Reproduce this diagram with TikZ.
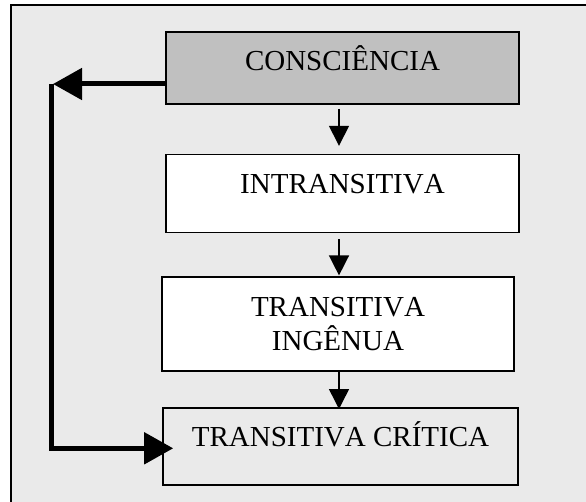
\documentclass[tikz,border=0pt]{standalone}
\usepackage{fontspec}
\setmainfont{Liberation Serif}[Kerning=Off]
\usetikzlibrary{positioning, arrows.meta}
\definecolor{panelgray}{HTML}{EAEAEA}
\definecolor{headgray}{HTML}{C0C0C0}

\begin{document}
\begin{tikzpicture} [x=1pt, y=-1pt,
            box/.style = {draw, line width=1.6pt, inner sep=0pt,
                font=\fontsize{29}{34}\selectfont},
            thin arrow/.style = {-{Triangle[length=20pt, width=20pt]}, line width=1.5pt},
            thick arrow/.style = {-{Triangle[length=29pt, width=31pt]}, line width=5pt,
                line join=miter}]

            \useasboundingbox (0,0) rectangle (586,502);
            \clip (0,0) rectangle (586,502);

            % Frame
            \draw [fill=panelgray, line width=1.2pt] (11,5) rectangle (600,520);

            % Box consciencia
            \node (cons) [box,
                fill=headgray,
                minimum width=353pt, minimum height=72pt,
                text height=39pt, text depth=33pt] at (342.5,68) {CONSCIÊNCIA};

            % Box intransitiva
            \node (intr) [box,
                fill=white,
                minimum width=353pt, minimum height=78pt,
                text height=39pt, text depth=39pt,
                below = 49pt of cons] {INTRANSITIVA};

            % Box transitiva ingenua
            \node (ing) [box,
                fill=white, align=center,
                minimum width=352pt, minimum height=94pt,
                below = 43pt of intr, xshift=-4.5pt] {TRANSITIVA\\INGÊNUA};

            % Box transitiva critica
            \node (crit) [box,
                minimum width=355pt, minimum height=77pt,
                text height=39pt, text depth=38pt,
                below = 35pt of ing, xshift=2.5pt] {TRANSITIVA CRÍTICA};

            \coordinate (turn) at (51,84);

            % Arrows
            \draw [thin arrow, shorten <=4pt, shorten >=8pt]
                ([xshift=-3.5pt]cons.south) -- ([xshift=-3.5pt]cons.south |- intr.north);
            \draw [thin arrow, shorten <=6pt, shorten >=1pt]
                ([xshift=-3.5pt]intr.south) -- ([xshift=-3.5pt]intr.south |- ing.north);
            \draw [thin arrow, shorten >=-2pt]
                ([xshift=1pt]ing.south) -- ([xshift=1pt]ing.south |- crit.north);

            \draw [thick arrow, shorten >=2pt] (turn -| cons.west) -- (turn);
            \draw [thick arrow, shorten >=-11pt] (turn) |- ([yshift=-2pt]crit.west);
\end{tikzpicture}
\end{document}
